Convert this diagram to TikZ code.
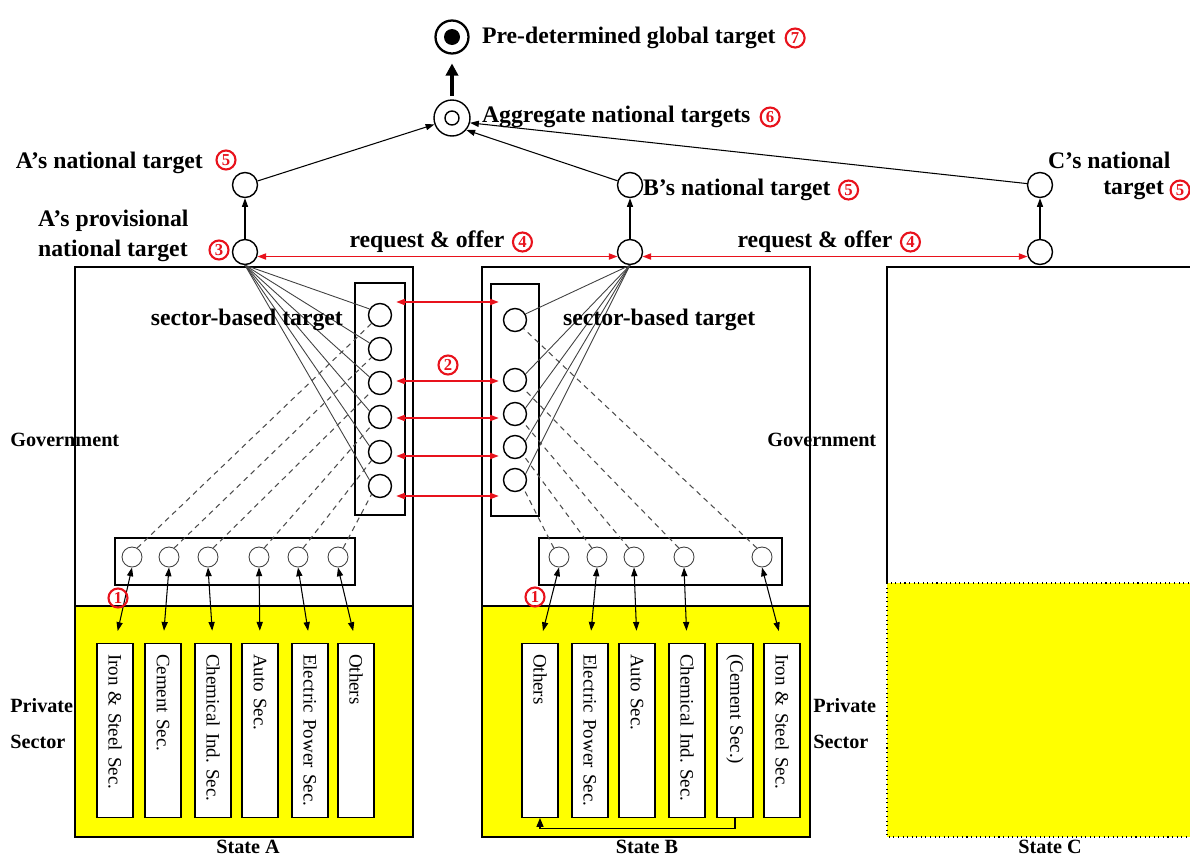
\documentclass[tikz,border=0pt]{standalone}
\usepackage{fontspec}
\setmainfont{Liberation Serif}
\usetikzlibrary{arrows.meta, positioning, calc}

\definecolor{annred}{RGB}{232,18,28}
\definecolor{secyellow}{RGB}{255,255,0}

\newcommand{\lblfont}{\fontsize{13.5}{15}\selectfont\bfseries}
\newcommand{\sidefont}{\fontsize{11.5}{13}\selectfont\bfseries}
\newcommand{\secfont}{\fontsize{10.8}{12}\selectfont\frenchspacing}

\begin{document}
\begin{tikzpicture}[x=0.02cm, y=-0.02cm, >=Triangle,
    tgt/.style={circle, draw, line width=0.8pt, minimum size=0.5cm, inner sep=0pt},
    sec/.style={circle, draw, line width=0.8pt, minimum size=0.46cm, inner sep=0pt},
    firm/.style={circle, draw=black!75, line width=0.5pt, minimum size=0.4cm, inner sep=0pt},
    lbl/.style={font=\lblfont, inner sep=1pt},
    side/.style={font=\sidefont, inner sep=0pt, anchor=west},
    cnum/.style={circle, draw=annred, line width=1.2pt, text=annred,
      font=\fontsize{9.5}{10}\selectfont\bfseries, inner sep=0pt, minimum size=0.38cm},
    pbox/.style={draw, fill=white, line width=0.6pt, rotate=-90, anchor=west,
      font=\secfont, minimum width=3.48cm, minimum height=0.72cm,
      text width=3.06cm, inner xsep=0.21cm, align=left},
    arr/.style={->, >={Triangle[length=5pt, width=3.5pt]}, line width=0.6pt},
    darr/.style={<->, >={Triangle[length=5pt, width=3.5pt]}, line width=0.6pt, shorten >=7pt},
    redarr/.style={<->, >={Triangle[length=5pt, width=3.5pt]}, annred, line width=0.9pt},
    fan/.style={black!75, line width=0.5pt},
    dline/.style={black!70, line width=0.6pt, dash pattern=on 3pt off 2.5pt}]

  \useasboundingbox (0,0) rectangle (1190,856);

  % State boxes
  \fill[secyellow] (75,606) rectangle (413,837);
  \draw[line width=0.6pt] (75,267) rectangle (413,837);
  \draw[line width=0.6pt] (75,606) -- (413,606);
  \fill[secyellow] (482,606) rectangle (810,837);
  \draw[line width=0.6pt] (482,267) rectangle (810,837);
  \draw[line width=0.6pt] (482,606) -- (810,606);
  \fill[secyellow] (887,583) rectangle (1195,837);
  \draw[line width=0.6pt, dotted] (887,583) rectangle (1195,837);
  \draw[line width=0.6pt] (887,583) -- (887,267) -- (1195,267);

  % Global and aggregate targets
  \node[circle, draw, line width=1.3pt, minimum size=0.66cm, inner sep=0pt] (glob) at (452,37) {};
  \node[circle, fill, minimum size=0.32cm, inner sep=0pt] (globin) at (glob) {};
  \node[lbl, anchor=west] (globlbl) at (480,38) {Pre-determined global target};
  \node[cnum, right=4pt of globlbl] (n7) {7};

  \node[circle, draw, line width=0.8pt, minimum size=0.72cm, inner sep=0pt] (agg) at (452,118) {};
  \node[circle, draw, line width=0.8pt, minimum size=0.28cm, inner sep=0pt] (aggin) at (agg) {};
  \node[lbl, anchor=west] (agglbl) at (480,117) {Aggregate national targets};
  \node[cnum, right=4pt of agglbl] (n6) {6};

  \draw[->, >={Triangle[length=7pt, width=7pt]}, line width=1.8pt, shorten >=5pt, shorten <=2pt] (agg) -- (glob);

  % National targets
  \node[tgt] (anat) at (245,185) {};
  \node[lbl, anchor=east] (anatlbl) at (205,163) {A’s national target};
  \node[cnum] (n5a) at (226,160) {5};
  \node[tgt] (aprov) at (245,252) {};
  \node[lbl, anchor=west, align=left] (aprovlbl) at (36,236) {A’s provisional\\[2pt]national target};
  \node[cnum] (n3) at (219,250) {3};

  \node[tgt] (bnat) at (630,185) {};
  \node[lbl, anchor=west] (bnatlbl) at (641,190) {B’s national target};
  \node[cnum, right=3pt of bnatlbl] (n5b) {5};
  \node[tgt] (bprov) at (630,252) {};

  \node[tgt] (cnat) at (1040,185) {};
  \node[lbl, anchor=west] (cnatlbl) at (1046,160) {C’s national};
  \node[lbl, anchor=east] (cnatlbl2) at (1166,190) {target};
  \node[cnum, right=2pt of cnatlbl2] (n5c) {5};
  \node[tgt] (cprov) at (1040,252) {};

  \draw[arr] (aprov) -- (anat);
  \draw[arr] (bprov) -- (bnat);
  \draw[arr] (cprov) -- (cnat);
  \draw[arr] (anat) -- (agg.200);
  \draw[arr] (bnat) -- (agg.-40);
  \draw[arr] (cnat) -- (agg.-15);

  % Request and offer
  \draw[redarr] (aprov.-20) -- (bprov.200);
  \draw[redarr] (bprov.-20) -- (cprov.200);
  \node[lbl] (reqab) at (427,242) {request \& offer};
  \node[cnum, right=3pt of reqab] (n4a) {4};
  \node[lbl] (reqbc) at (815,242) {request \& offer};
  \node[cnum, right=3pt of reqbc] (n4b) {4};

  % Sector-based targets
  \draw[line width=0.6pt] (355,283) rectangle (405,515);
  \draw[line width=0.6pt] (491,284) rectangle (539,516);
  \foreach \i/\y in {1/315,2/349,3/383,4/417,5/452,6/486}
    \node[sec] (sa\i) at (380,\y) {};
  \foreach \i/\y in {1/320,2/380,3/414,4/447,5/480}
    \node[sec] (sb\i) at (515,\y) {};

  % Firm level
  \draw[line width=0.6pt] (115,538) rectangle (355,585);
  \draw[line width=0.6pt] (539,538) rectangle (782,585);
  \foreach \i/\x in {1/132,2/169,3/208,4/259,5/298,6/338}
    \node[firm] (ga\i) at (\x,557) {};
  \foreach \i/\x in {1/559,2/597,3/634,4/684,5/762}
    \node[firm] (gb\i) at (\x,557) {};

  \foreach \i in {1,...,6}
    \draw[fan] (aprov.south) -- (sa\i.150);
  \foreach \i in {1,...,5}
    \draw[fan] (bprov.south) -- (sb\i.30);
  \foreach \i in {1,...,6}
    \draw[dline] (ga\i.60) -- (sa\i.225);
  \foreach \i/\j in {1/5,2/4,3/3,4/2,5/1}
    \draw[dline] (gb\j.120) -- (sb\i.-45);

  \node[lbl, anchor=east] (satgt) at (345,320) {sector-based target};
  \node[lbl, anchor=west] (sbtgt) at (561,320) {sector-based target};

  % Negotiation between sectors
  \foreach \a/\b/\dy in {1/1/-13,3/2/-2,4/3/1,5/4/4,6/5/10}
    \draw[redarr] ($(sa\a.east)+(4,\dy)$) -- ($(sa\a.east -| sb\b.west)+(-4,\dy)$);
  \node[cnum] (n2) at (448,365) {2};

  % Private sector
  \foreach \i/\x/\t in {1/115/Iron \& Steel Sec., 2/163/Cement Sec., 3/213/Chemical Ind. Sec.,
      4/260/Auto Sec., 5/310/Electric Power Sec., 6/356/Others}
    \node[pbox] (pa\i) at (\x,643) {\t};
  \foreach \i/\x/\t in {1/540/Others, 2/590/Electric Power Sec., 3/637/Auto Sec.,
      4/687/Chemical Ind. Sec., 5/735/(Cement Sec.), 6/782/Iron \& Steel Sec.}
    \node[pbox] (pb\i) at (\x,643) {\t};

  \foreach \i in {1,...,6}
    \draw[darr] (ga\i.south) -- (pa\i.west);
  \foreach \j/\i in {1/1,2/2,3/3,4/4,5/6}
    \draw[darr] (gb\j.south) -- (pb\i.west);
  \draw[->, >={Triangle[length=5pt, width=4pt]}, line width=0.6pt] (pb5.east) -- ++(0,10) -| (pb1.east);

  \node[cnum] (n1a) at (118,598) {1};
  \node[cnum] (n1b) at (535,597) {1};

  % Side labels
  \node[side] (govA) at (10,440) {Government};
  \node[side] (govB) at (767,440) {Government};
  \node[side] (privA) at (10,706) {Private};
  \node[side] (sectA) at (10,742) {Sector};
  \node[side] (privB) at (813,706) {Private};
  \node[side] (sectB) at (813,742) {Sector};
  \node[font=\sidefont, inner sep=0pt] (stA) at (248,847) {State A};
  \node[font=\sidefont, inner sep=0pt] (stB) at (647,847) {State B};
  \node[font=\sidefont, inner sep=0pt] (stC) at (1050,847) {State C};
\end{tikzpicture}
\end{document}
